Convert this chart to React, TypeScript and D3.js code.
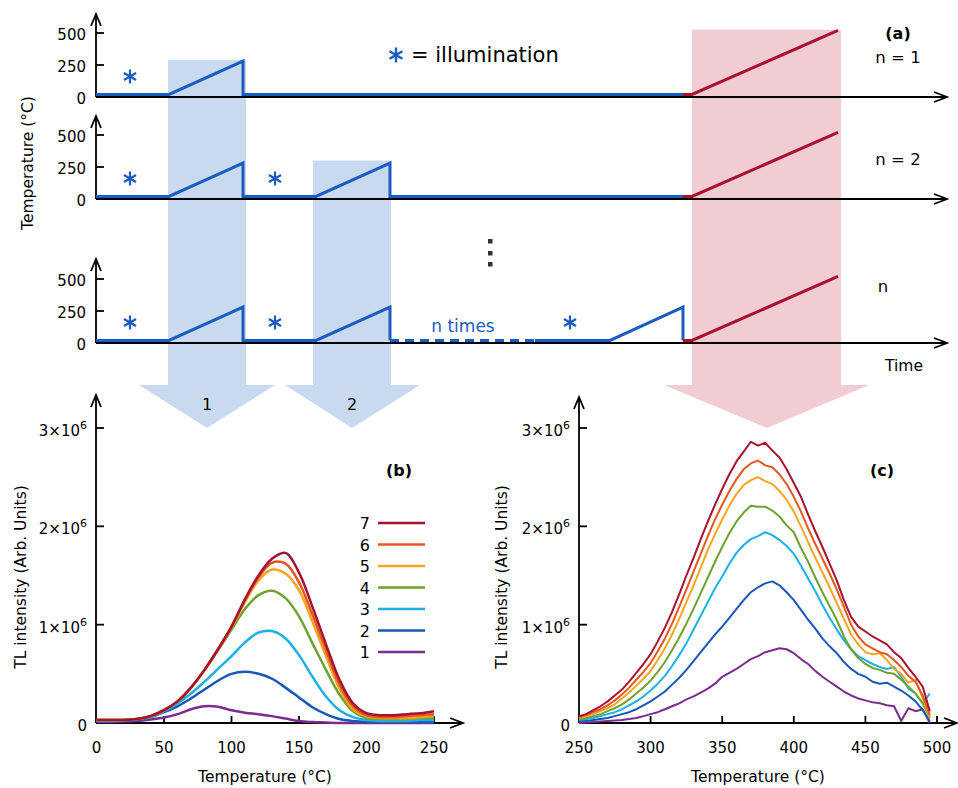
import React from "react";
import * as d3 from "d3";

const FONT = '"DejaVu Sans", Verdana, sans-serif';

// ---------- Panel (a): temperature programmes (time in arbitrary units) ----------
const aTimeMax = 851;
const aTempTicks = [0, 250, 500];
const aRunLabels = ["n = 1", "n = 2", "n"];
const prog1Time = [0, 73, 147, 147, 587];
const prog1Temp = [20, 20, 280, 20, 20];
const prog2Time = [0, 73, 147, 147, 220, 294, 294, 587];
const prog2Temp = [20, 20, 280, 20, 20, 280, 20, 20];
const prog3Time = [0, 73, 147, 147, 220, 294, 294];
const prog3Temp = [20, 20, 280, 20, 20, 280, 20];
const repeatTime = [294, 439];
const repeatTemp = [20, 20];
const lastTime = [439, 514, 587, 587];
const lastTemp = [20, 20, 280, 20];
const readoutTime = [587, 596, 742];
const readoutTemp = [20, 20, 520];
const illumTimes = [[34], [34, 179], [34, 179, 474]];

// ---------- Panel (b): low temperature TL glow curves (x10^6) ----------
const bTemps = [0, 10, 20, 30, 40, 50, 60, 70, 80, 90, 100, 110, 120, 130, 140, 150, 160, 170, 180, 190, 200, 210, 220, 230, 240, 250];
const b7 = [0.03, 0.03, 0.03, 0.04, 0.07, 0.13, 0.22, 0.36, 0.54, 0.75, 0.98, 1.26, 1.5, 1.67, 1.73, 1.53, 1.18, 0.8, 0.44, 0.2, 0.1, 0.08, 0.08, 0.09, 0.1, 0.12];
const b6 = [0.03, 0.03, 0.03, 0.04, 0.07, 0.13, 0.22, 0.36, 0.54, 0.75, 0.98, 1.25, 1.48, 1.63, 1.62, 1.43, 1.1, 0.74, 0.39, 0.17, 0.08, 0.06, 0.06, 0.07, 0.08, 0.09];
const b5 = [0.03, 0.03, 0.03, 0.04, 0.07, 0.13, 0.22, 0.36, 0.54, 0.75, 0.97, 1.23, 1.45, 1.56, 1.52, 1.35, 1.03, 0.68, 0.35, 0.14, 0.07, 0.05, 0.05, 0.05, 0.06, 0.07];
const b4 = [0.03, 0.03, 0.03, 0.04, 0.07, 0.13, 0.22, 0.36, 0.54, 0.74, 0.95, 1.16, 1.3, 1.345, 1.27, 1.085, 0.81, 0.54, 0.29, 0.12, 0.05, 0.04, 0.04, 0.04, 0.05, 0.05];
const b3 = [0.02, 0.02, 0.03, 0.04, 0.06, 0.12, 0.2, 0.3, 0.42, 0.55, 0.68, 0.82, 0.92, 0.935, 0.86, 0.69, 0.47, 0.27, 0.13, 0.06, 0.03, 0.02, 0.02, 0.02, 0.03, 0.03];
const b2 = [0.02, 0.02, 0.02, 0.03, 0.06, 0.11, 0.17, 0.25, 0.34, 0.43, 0.5, 0.52, 0.5, 0.45, 0.36, 0.26, 0.16, 0.09, 0.04, 0.02, 0.01, 0.01, 0.01, 0.01, 0.01, 0.01];
const b1 = [0.01, 0.01, 0.015, 0.02, 0.035, 0.055, 0.09, 0.14, 0.17, 0.165, 0.13, 0.105, 0.09, 0.07, 0.045, 0.02, 0.01, 0.005, 0, 0, 0, 0, 0, 0, 0, 0];

// ---------- Panel (c): high temperature TL glow curves (x10^6) ----------
const cTemps = [250, 255, 260, 265, 270, 275, 280, 285, 290, 295, 300, 305, 310, 315, 320, 325, 330, 335, 340, 345, 350, 355, 360, 365, 370, 375, 380, 385, 390, 395, 400, 405, 410, 415, 420, 425, 430, 435, 440, 445, 450, 455, 460, 465, 470, 475, 480, 485, 490, 495];
const c7 = [0.07, 0.09, 0.13, 0.17, 0.22, 0.28, 0.34, 0.42, 0.51, 0.6, 0.7, 0.83, 0.97, 1.13, 1.31, 1.5, 1.68, 1.87, 2.05, 2.22, 2.38, 2.53, 2.66, 2.76, 2.86, 2.82, 2.85, 2.77, 2.7, 2.58, 2.44, 2.3, 2.12, 1.95, 1.79, 1.62, 1.45, 1.25, 1.08, 0.98, 0.93, 0.88, 0.84, 0.8, 0.72, 0.66, 0.56, 0.47, 0.37, 0.12];
const c6 = [0.06, 0.08, 0.11, 0.14, 0.18, 0.23, 0.29, 0.36, 0.44, 0.52, 0.61, 0.73, 0.86, 1.01, 1.18, 1.36, 1.54, 1.72, 1.9, 2.07, 2.22, 2.36, 2.48, 2.58, 2.64, 2.67, 2.62, 2.6, 2.53, 2.43, 2.3, 2.15, 1.98, 1.82, 1.67, 1.52, 1.36, 1.18, 1.0, 0.88, 0.8, 0.76, 0.72, 0.7, 0.64, 0.57, 0.48, 0.42, 0.28, 0.08];
const c5 = [0.05, 0.07, 0.09, 0.12, 0.15, 0.19, 0.25, 0.31, 0.38, 0.45, 0.53, 0.64, 0.76, 0.9, 1.06, 1.23, 1.4, 1.58, 1.76, 1.92, 2.07, 2.21, 2.33, 2.42, 2.47, 2.5, 2.46, 2.43, 2.36, 2.27, 2.15, 2.0, 1.84, 1.68, 1.53, 1.38, 1.22, 1.06, 0.9, 0.8, 0.72, 0.7, 0.71, 0.64, 0.55, 0.5, 0.41, 0.44, 0.25, 0.06];
const c4 = [0.04, 0.05, 0.07, 0.09, 0.12, 0.15, 0.19, 0.24, 0.3, 0.36, 0.43, 0.52, 0.62, 0.74, 0.87, 1.01, 1.16, 1.32, 1.48, 1.64, 1.79, 1.93, 2.05, 2.14, 2.21, 2.2, 2.2, 2.16, 2.1, 2.01, 1.94, 1.78, 1.64, 1.48, 1.33, 1.19, 1.05, 0.88, 0.75, 0.66, 0.6, 0.56, 0.54, 0.51, 0.5, 0.44, 0.37, 0.3, 0.2, 0.05];
const c3 = [0.03, 0.04, 0.05, 0.07, 0.09, 0.11, 0.14, 0.18, 0.22, 0.27, 0.33, 0.4, 0.48, 0.58, 0.69, 0.81, 0.95, 1.09, 1.23, 1.37, 1.49, 1.62, 1.73, 1.81, 1.87, 1.9, 1.94, 1.91, 1.86, 1.8, 1.72, 1.6, 1.47, 1.34, 1.2, 1.07, 0.95, 0.84, 0.75, 0.68, 0.64, 0.6, 0.57, 0.55, 0.57, 0.47, 0.35, 0.3, 0.2, 0.3];
const c2 = [0.02, 0.02, 0.03, 0.04, 0.05, 0.07, 0.09, 0.11, 0.14, 0.18, 0.22, 0.27, 0.32, 0.39, 0.46, 0.54, 0.63, 0.72, 0.81, 0.9, 0.98, 1.07, 1.16, 1.25, 1.33, 1.38, 1.42, 1.44, 1.4, 1.33, 1.25, 1.15, 1.05, 0.96, 0.86, 0.78, 0.71, 0.62, 0.55, 0.5, 0.47, 0.42, 0.4, 0.41, 0.37, 0.33, 0.28, 0.22, 0.13, 0.02];
const c1 = [0.0, 0.005, 0.01, 0.015, 0.02, 0.025, 0.03, 0.04, 0.05, 0.07, 0.09, 0.11, 0.14, 0.17, 0.2, 0.24, 0.27, 0.31, 0.35, 0.4, 0.47, 0.51, 0.55, 0.6, 0.65, 0.68, 0.72, 0.74, 0.76, 0.75, 0.71, 0.65, 0.6, 0.53, 0.47, 0.42, 0.37, 0.32, 0.28, 0.25, 0.23, 0.21, 0.2, 0.18, 0.17, 0.02, 0.15, 0.12, 0.14, 0.0];

const seriesNames = ["7", "6", "5", "4", "3", "2", "1"];
const seriesColors = ["#a8122f", "#e2581f", "#f8a51e", "#6fa12f", "#1bb0e8", "#1757b7", "#7b2c8f"];
const bSeries = [b7, b6, b5, b4, b3, b2, b1];
const cSeries = [c7, c6, c5, c4, c3, c2, c1];

const bTicksX = [0, 50, 100, 150, 200, 250];
const cTicksX = [250, 300, 350, 400, 450, 500];
const tlTicks = [0, 1, 2, 3];

const BLUE = "#1a5cbf";
const RED = "#a8122f";
const SHADE_BLUE = "#c9d9ef";
const SHADE_RED = "#f1cdd3";

function upArrow(x: number, y: number) {
  return `M${x - 5},${y + 12} L${x},${y} L${x + 5},${y + 12}`;
}
function rightArrow(x: number, y: number) {
  return `M${x - 13},${y - 5} L${x},${y} L${x - 13},${y + 5}`;
}
function asterisk(cx: number, cy: number, r: number) {
  const a = Math.PI / 6;
  const dx = r * Math.cos(a), dy = r * Math.sin(a);
  return `M${cx},${cy - r} L${cx},${cy + r} M${cx - dx},${cy - dy} L${cx + dx},${cy + dy} M${cx - dx},${cy + dy} L${cx + dx},${cy - dy}`;
}
const zip = (xs: number[], ys: number[]) => xs.map((x, i) => [x, ys[i]] as [number, number]);

function TLLabel({ v, x, y }: { v: number; x: number; y: number }) {
  if (v === 0)
    return (
      <text x={x} y={y + 8} textAnchor="end" fontSize={15}>0</text>
    );
  return (
    <text x={x} y={y + 8} textAnchor="end" fontSize={15}>
      {`${v}×10`}
      <tspan dy={-7} fontSize={11}>6</tspan>
    </text>
  );
}

export default function App() {
  // ---- panel (a) scales ----
  const tx = d3.scaleLinear().domain([0, aTimeMax]).range([96, 947]);
  const zeros = [97, 199, 343];
  const tops = [14, 116, 259];
  const ty = zeros.map((z) => d3.scaleLinear().domain([0, 500]).range([z, z - 64]));
  const lineA = (s: d3.ScaleLinear<number, number>) =>
    d3.line<[number, number]>().x((d) => tx(d[0])).y((d) => s(d[1]));

  // shaded stage columns (time units) and arrows
  const shaftBottom = 385;
  const tipY = 428;
  const col = (t0: number, t1: number, topY: number, h0: number, h1: number, tip: number) =>
    `M${tx(t0)},${topY} L${tx(t1)},${topY} L${tx(t1)},${shaftBottom} L${tx(h1)},${shaftBottom} L${tx(tip)},${tipY} L${tx(h0)},${shaftBottom} L${tx(t0)},${shaftBottom} Z`;
  const col1 = col(72, 150, ty[0](290), 43, 179, 111);
  const col2 = col(217, 295, ty[1](300), 189, 324, 256);
  const col3 = col(596, 745, ty[0](525), 568, 773, 671);

  // ---- panel (b)/(c) scales ----
  const bx = d3.scaleLinear().domain([0, 250]).range([96.5, 434]);
  const cx = d3.scaleLinear().domain([250, 500]).range([579, 937]);
  const yTL = d3.scaleLinear().domain([0, 3]).range([723, 428]);
  const bLine = d3
    .line<[number, number]>()
    .x((d) => bx(d[0]))
    .y((d) => yTL(d[1]))
    .curve(d3.curveCatmullRom);
  const cLine = d3
    .line<[number, number]>()
    .x((d) => cx(d[0]))
    .y((d) => yTL(d[1]));

  const axisStroke = { stroke: "#000", strokeWidth: 1.8, fill: "none" };

  return (
    <svg
      width={958}
      height={788}
      style={{ position: "absolute", left: 0, top: 0, background: "#fff" }}
      fontFamily={FONT}
    >
      {/* background stage columns */}
      <path d={col1} fill={SHADE_BLUE} />
      <path d={col2} fill={SHADE_BLUE} />
      <path d={col3} fill={SHADE_RED} />
      <text x={tx(111)} y={410} textAnchor="middle" fontSize={16}>1</text>
      <text x={tx(256)} y={410} textAnchor="middle" fontSize={16}>2</text>

      {/* panel (a) axes */}
      {zeros.map((z, k) => (
        <g key={k}>
          <line x1={96} y1={z} x2={96} y2={tops[k] + 1} {...axisStroke} />
          <path d={upArrow(96, tops[k])} {...axisStroke} />
          <line x1={96} y1={z} x2={946} y2={z} {...axisStroke} />
          <path d={rightArrow(947, z)} {...axisStroke} />
          {aTempTicks.map((t) => (
            <g key={t}>
              {t > 0 && <line x1={96} x2={104} y1={ty[k](t)} y2={ty[k](t)} {...axisStroke} />}
              <text x={86} y={ty[k](t) + 6.5} textAnchor="end" fontSize={15}>{t}</text>
            </g>
          ))}
          {illumTimes[k].map((t, i) => (
            <path key={i} d={asterisk(tx(t), ty[k](160), 7)} stroke={BLUE} strokeWidth={2.2} fill="none" />
          ))}
        </g>
      ))}
      <path d={lineA(ty[0])(zip(prog1Time, prog1Temp)) || ""} stroke={BLUE} strokeWidth={3} fill="none" />
      <path d={lineA(ty[1])(zip(prog2Time, prog2Temp)) || ""} stroke={BLUE} strokeWidth={3} fill="none" />
      <path d={lineA(ty[2])(zip(prog3Time, prog3Temp)) || ""} stroke={BLUE} strokeWidth={3} fill="none" />
      <path d={lineA(ty[2])(zip(repeatTime, repeatTemp)) || ""} stroke={BLUE} strokeWidth={3} fill="none" strokeDasharray="9,6" />
      <path d={lineA(ty[2])(zip(lastTime, lastTemp)) || ""} stroke={BLUE} strokeWidth={3} fill="none" />
      {ty.map((s, k) => (
        <path key={k} d={lineA(s)(zip(readoutTime, readoutTemp)) || ""} stroke={RED} strokeWidth={3} fill="none" />
      ))}
      <text x={463} y={332} textAnchor="middle" fontSize={17} fill={BLUE}>n times</text>
      {[241, 253, 264].map((y) => (
        <rect key={y} x={488} y={y - 2} width={4.5} height={4.5} fill="#333" />
      ))}
      <path d={asterisk(396, 55, 7.5)} stroke={BLUE} strokeWidth={2.4} fill="none" />
      <text x={411} y={62} fontSize={21}>= illumination</text>
      <text x={898} y={39} textAnchor="middle" fontSize={16} fontWeight="bold">(a)</text>
      <text x={898} y={63} textAnchor="middle" fontSize={16.5}>{aRunLabels[0]}</text>
      <text x={898} y={165} textAnchor="middle" fontSize={16.5}>{aRunLabels[1]}</text>
      <text x={883} y={292} textAnchor="middle" fontSize={16.5}>{aRunLabels[2]}</text>
      <text x={904} y={371} textAnchor="middle" fontSize={15.5}>Time</text>
      <text transform="translate(33,163) rotate(-90)" textAnchor="middle" fontSize={15.5}>Temperature (°C)</text>

      {/* panel (b) */}
      <g>
        <line x1={96} y1={723} x2={96} y2={396} {...axisStroke} />
        <path d={upArrow(96, 395)} {...axisStroke} />
        <line x1={96} y1={723} x2={462} y2={723} {...axisStroke} />
        <path d={rightArrow(463, 723)} {...axisStroke} />
        {tlTicks.map((v) => (
          <g key={v}>
            {v > 0 && <line x1={96} x2={104} y1={yTL(v)} y2={yTL(v)} {...axisStroke} />}
            <TLLabel v={v} x={87} y={yTL(v)} />
          </g>
        ))}
        {bTicksX.map((t) => (
          <g key={t}>
            {t > 0 && <line x1={bx(t)} x2={bx(t)} y1={723} y2={716} {...axisStroke} />}
            <text x={bx(t)} y={753} textAnchor="middle" fontSize={15}>{t}</text>
          </g>
        ))}
        {bSeries
          .map((s, i) => ({ s, i }))
          .reverse()
          .map(({ s, i }) => (
            <path key={i} d={bLine(zip(bTemps, s)) || ""} stroke={seriesColors[i]} strokeWidth={2.5} fill="none" />
          ))}
        {seriesNames.map((n, i) => {
          const y = 523 + i * 21.5;
          return (
            <g key={n}>
              <text x={370} y={y + 6} textAnchor="end" fontSize={16}>{n}</text>
              <line x1={378} x2={425} y1={y} y2={y} stroke={seriesColors[i]} strokeWidth={2.5} />
            </g>
          );
        })}
        <text x={399} y={476} textAnchor="middle" fontSize={16} fontWeight="bold">(b)</text>
        <text x={265} y={782} textAnchor="middle" fontSize={15.5}>Temperature (°C)</text>
        <text transform="translate(26,577) rotate(-90)" textAnchor="middle" fontSize={15.5}>TL intensity (Arb. Units)</text>
      </g>

      {/* panel (c) */}
      <g>
        <line x1={579} y1={723} x2={579} y2={398} {...axisStroke} />
        <path d={upArrow(579, 397)} {...axisStroke} />
        <line x1={579} y1={723} x2={957} y2={723} {...axisStroke} />
        <path d={rightArrow(957, 723)} {...axisStroke} />
        {tlTicks.map((v) => (
          <g key={v}>
            {v > 0 && <line x1={579} x2={587} y1={yTL(v)} y2={yTL(v)} {...axisStroke} />}
            <TLLabel v={v} x={570} y={yTL(v)} />
          </g>
        ))}
        {cTicksX.map((t) => (
          <g key={t}>
            {t > 250 && <line x1={cx(t)} x2={cx(t)} y1={723} y2={716} {...axisStroke} />}
            <text x={cx(t)} y={753} textAnchor="middle" fontSize={15}>{t}</text>
          </g>
        ))}
        {cSeries
          .map((s, i) => ({ s, i }))
          .reverse()
          .map(({ s, i }) => (
            <path key={i} d={cLine(zip(cTemps, s)) || ""} stroke={seriesColors[i]} strokeWidth={2} fill="none" strokeLinejoin="round" />
          ))}
        <text x={882} y={476} textAnchor="middle" fontSize={16} fontWeight="bold">(c)</text>
        <text x={758} y={782} textAnchor="middle" fontSize={15.5}>Temperature (°C)</text>
        <text transform="translate(507,577) rotate(-90)" textAnchor="middle" fontSize={15.5}>TL intensity (Arb. Units)</text>
      </g>
    </svg>
  );
}
